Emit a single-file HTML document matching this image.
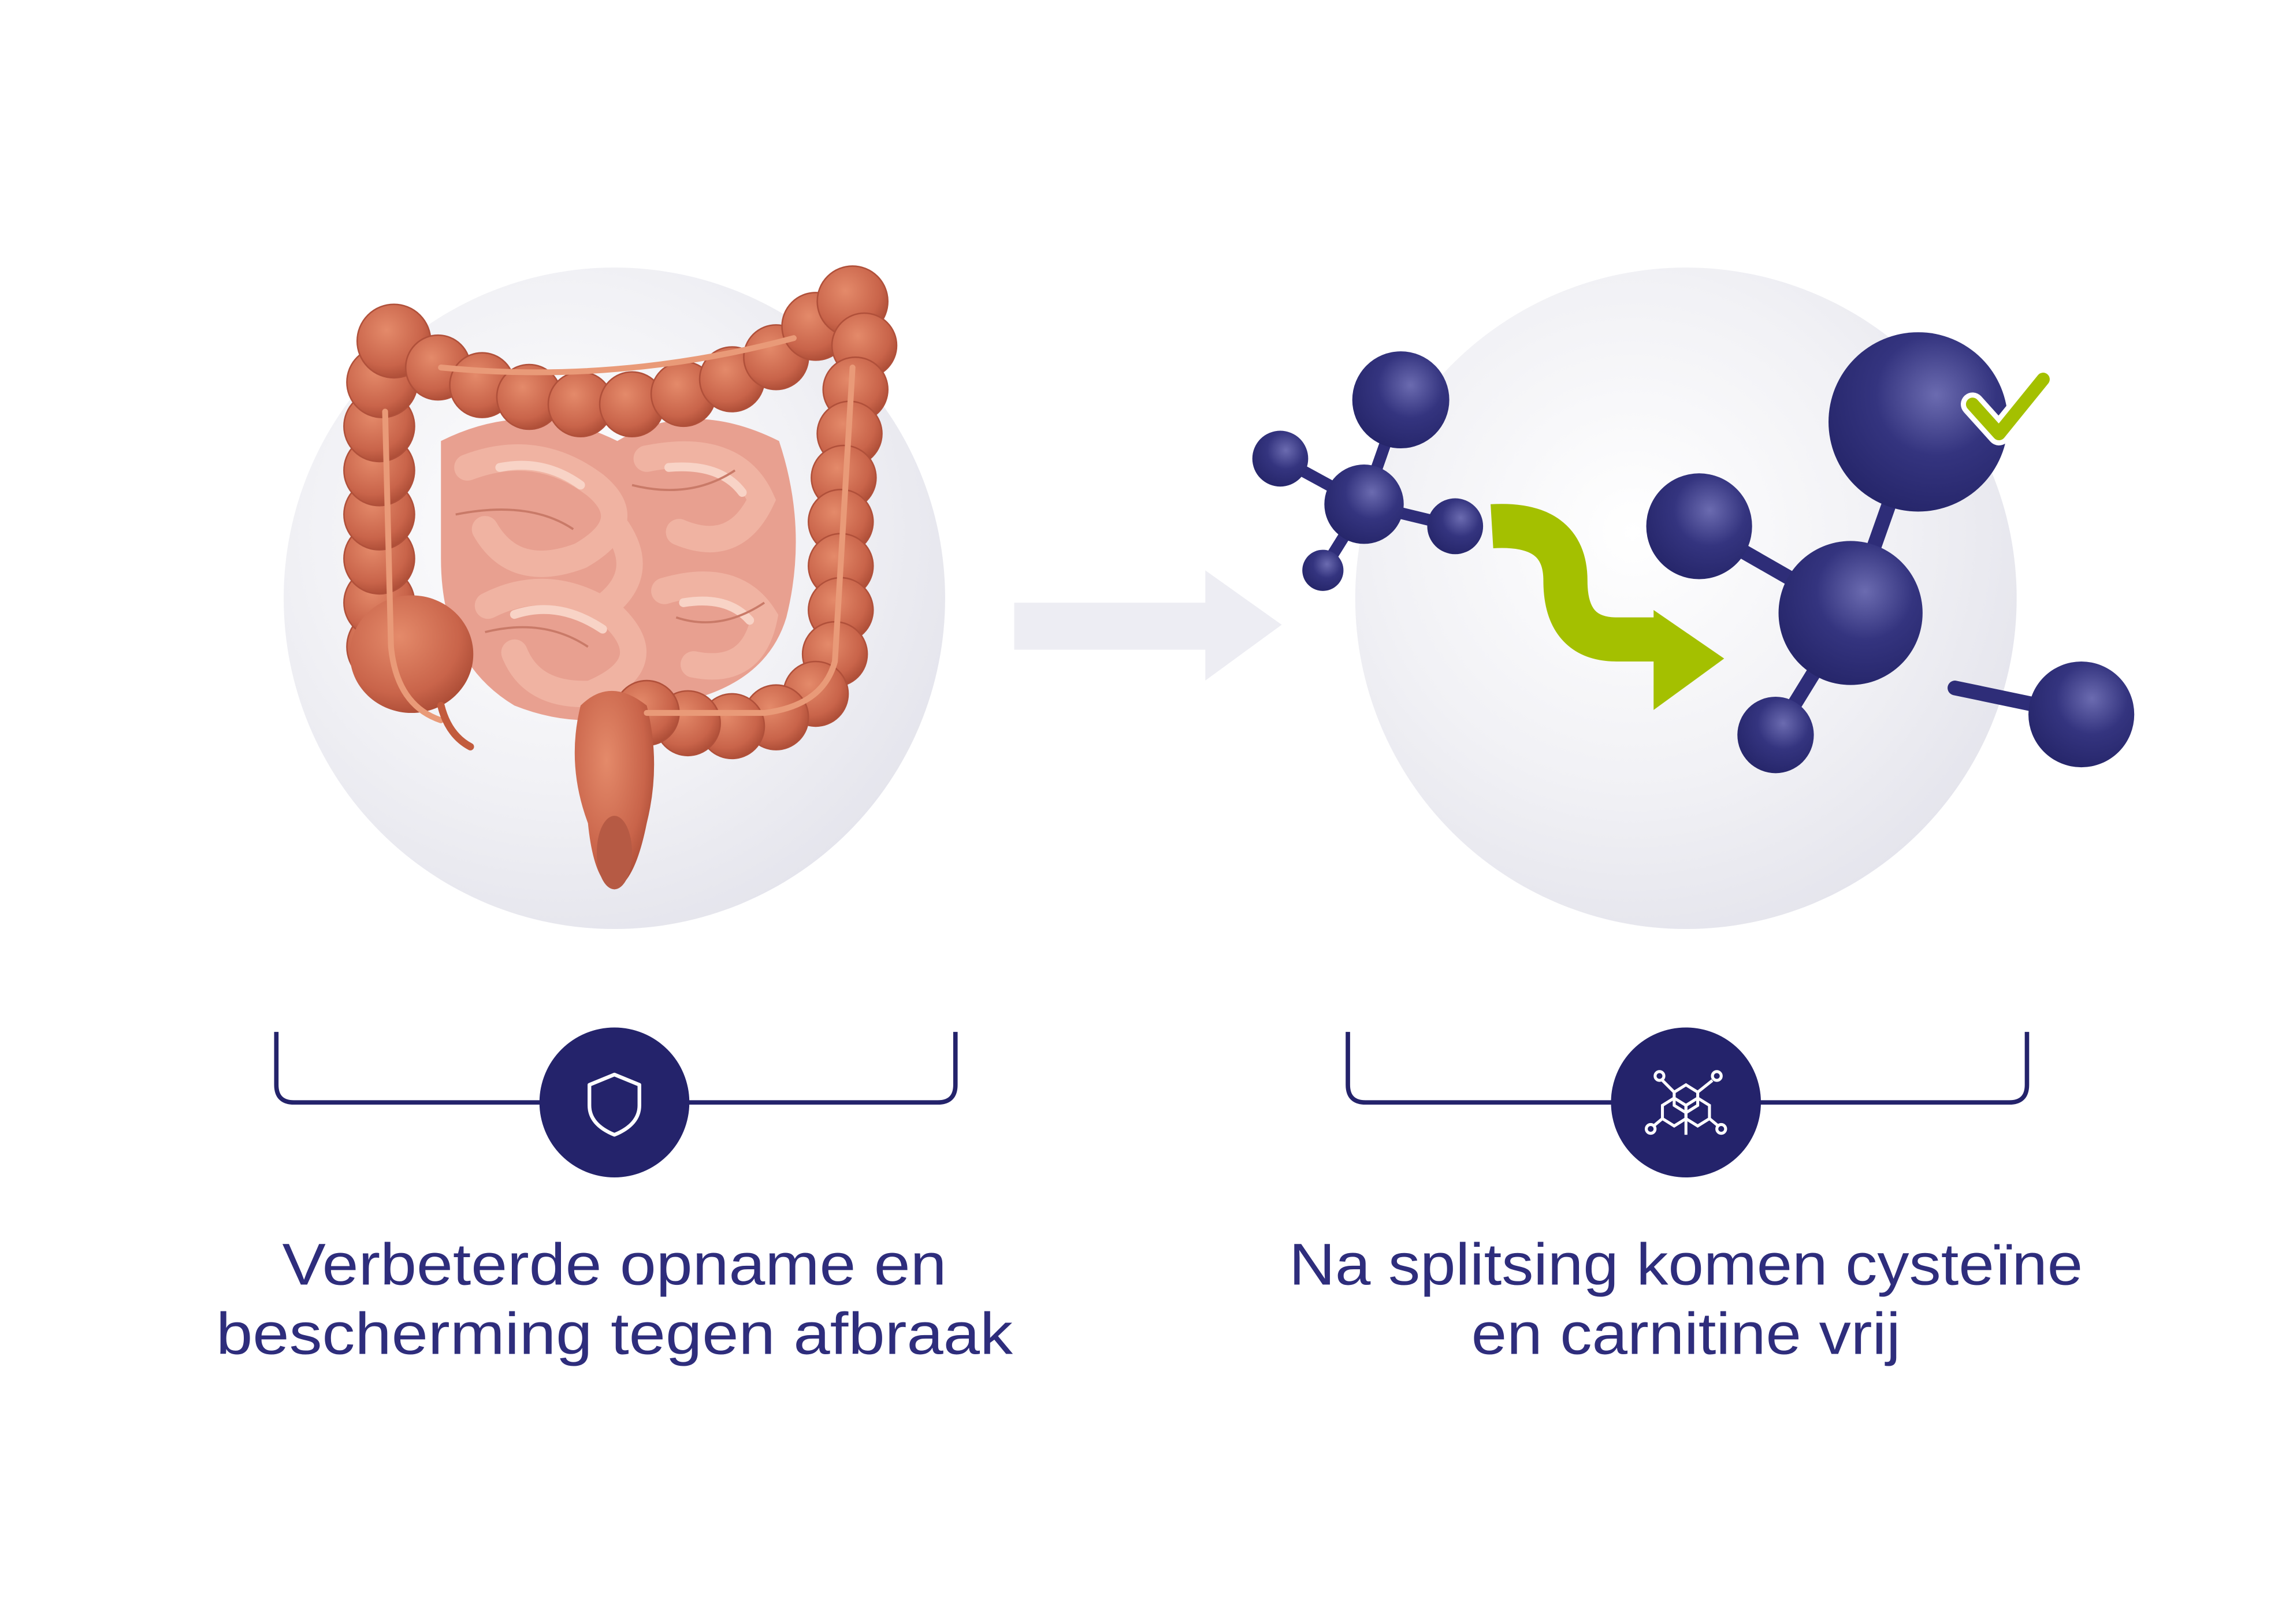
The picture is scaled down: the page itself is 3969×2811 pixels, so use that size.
<!DOCTYPE html>
<html><head><meta charset="utf-8">
<style>
html,body{margin:0;padding:0;background:#fff;}
svg{display:block;}
</style></head>
<body>
<svg width="3969" height="2811" viewBox="0 0 1560 1104.8" xmlns="http://www.w3.org/2000/svg">
<defs>
<radialGradient id="cg" cx="0.42" cy="0.4" r="0.65">
<stop offset="0" stop-color="#ffffff"/>
<stop offset="0.6" stop-color="#f1f1f5"/>
<stop offset="1" stop-color="#e4e4ec"/>
</radialGradient>
<radialGradient id="ball" cx="0.6" cy="0.35" r="0.75">
<stop offset="0" stop-color="#6b6bb0"/>
<stop offset="0.45" stop-color="#34347f"/>
<stop offset="1" stop-color="#232366"/>
</radialGradient>
<radialGradient id="pink" cx="0.5" cy="0.5" r="0.6">
<stop offset="0" stop-color="#f6c9bc"/>
<stop offset="1" stop-color="#e39b88"/>
</radialGradient>
<radialGradient id="hb" cx="0.4" cy="0.35" r="0.7">
<stop offset="0" stop-color="#e48a6a"/>
<stop offset="0.7" stop-color="#c9644a"/>
<stop offset="1" stop-color="#a94a34"/>
</radialGradient>
</defs>

<circle cx="418" cy="407" r="225" fill="url(#cg)"/>
<circle cx="1147" cy="407" r="225" fill="url(#cg)"/>

<rect x="690" y="410" width="131" height="32" fill="#ededf3"/>
<polygon points="820,388 872,425 820,463" fill="#ededf3"/>

<!-- small intestine -->
<path d="M300 300 Q360 270 420 300 Q470 270 530 300 Q550 360 535 420 Q520 470 450 480 Q400 500 350 480 Q300 450 300 380 Z" fill="#e8a090"/>
<g fill="none" stroke="#f0b3a2" stroke-width="18" stroke-linecap="round">
<path d="M318 318 Q365 300 405 330 Q435 355 395 378 Q350 395 330 360"/>
<path d="M440 312 Q500 300 518 340 Q500 378 462 362"/>
<path d="M332 412 Q375 390 418 420 Q450 452 402 472 Q362 474 350 444"/>
<path d="M452 402 Q500 388 520 420 Q512 460 472 452"/>
<path d="M420 360 Q440 390 412 412"/>
</g>
<g fill="none" stroke="#f8d3c6" stroke-width="6" stroke-linecap="round">
<path d="M340 318 Q370 312 395 330 M455 318 Q490 315 505 335 M350 418 Q380 408 410 428 M465 410 Q495 405 510 422"/>
</g>
<g fill="none" stroke="#c97a68" stroke-width="1.5">
<path d="M310 350 Q360 340 390 360 M430 330 Q470 340 500 320 M330 430 Q370 420 400 440 M460 420 Q490 430 520 410"/>
</g>

<!-- colon haustra -->
<g fill="url(#hb)" stroke="#b0503a" stroke-width="1">
<circle cx="262" cy="440" r="26"/><circle cx="258" cy="410" r="24"/><circle cx="258" cy="380" r="24"/><circle cx="258" cy="350" r="24"/><circle cx="258" cy="320" r="24"/><circle cx="258" cy="290" r="24"/><circle cx="260" cy="260" r="24"/><circle cx="268" cy="232" r="25"/>
<circle cx="298" cy="250" r="22"/><circle cx="328" cy="262" r="22"/><circle cx="360" cy="270" r="22"/><circle cx="395" cy="275" r="22"/><circle cx="430" cy="275" r="22"/><circle cx="465" cy="268" r="22"/><circle cx="498" cy="258" r="22"/><circle cx="528" cy="243" r="22"/><circle cx="555" cy="222" r="23"/><circle cx="580" cy="205" r="24"/>
<circle cx="588" cy="235" r="22"/><circle cx="582" cy="265" r="22"/><circle cx="578" cy="295" r="22"/><circle cx="574" cy="325" r="22"/><circle cx="572" cy="355" r="22"/><circle cx="572" cy="385" r="22"/><circle cx="572" cy="415" r="22"/><circle cx="568" cy="445" r="22"/><circle cx="555" cy="472" r="22"/>
<circle cx="528" cy="488" r="22"/><circle cx="498" cy="494" r="22"/><circle cx="468" cy="492" r="22"/><circle cx="440" cy="485" r="22"/>
</g>
<ellipse cx="280" cy="445" rx="42" ry="40" fill="url(#hb)"/>
<path d="M395 480 Q415 460 440 480 Q450 520 440 560 Q432 600 418 605 Q404 600 400 560 Q385 520 395 480 Z" fill="url(#hb)"/>
<ellipse cx="418" cy="580" rx="12" ry="25" fill="#b65a44"/>
<path d="M262 280 L266 440 Q270 480 300 490 M300 250 Q420 262 540 230 M580 250 L568 450 Q560 480 520 485 L440 485"
 fill="none" stroke="#e99a78" stroke-width="4" stroke-linecap="round"/>
<path d="M300 480 Q305 500 320 508" fill="none" stroke="#c25b3d" stroke-width="5" stroke-linecap="round"/>

<!-- left molecule -->
<g stroke="#2e2d78" stroke-width="8" stroke-linecap="round">
<line x1="928" y1="343" x2="953" y2="272"/>
<line x1="928" y1="343" x2="871" y2="312"/>
<line x1="928" y1="343" x2="990" y2="358"/>
<line x1="928" y1="343" x2="900" y2="388"/>
</g>
<circle cx="953" cy="272" r="33" fill="url(#ball)"/>
<circle cx="928" cy="343" r="27" fill="url(#ball)"/>
<circle cx="871" cy="312" r="19" fill="url(#ball)"/>
<circle cx="990" cy="358" r="19" fill="url(#ball)"/>
<circle cx="900" cy="388" r="14" fill="url(#ball)"/>

<path d="M1015 358 Q1065 355 1065 395 Q1065 435 1100 435 L1130 435" fill="none" stroke="#a4c000" stroke-width="30"/>
<polygon points="1125,415 1173,448 1125,483" fill="#a4c000"/>

<g stroke="#2e2d78" stroke-width="10" stroke-linecap="round">
<line x1="1259" y1="417" x2="1305" y2="287"/>
<line x1="1259" y1="417" x2="1156" y2="358"/>
<line x1="1259" y1="417" x2="1208" y2="500"/>
<line x1="1330" y1="468" x2="1416" y2="486"/>
</g>
<circle cx="1305" cy="287" r="61" fill="url(#ball)"/>
<circle cx="1259" cy="417" r="49" fill="url(#ball)"/>
<circle cx="1156" cy="358" r="36" fill="url(#ball)"/>
<circle cx="1208" cy="500" r="26" fill="url(#ball)"/>
<circle cx="1416" cy="486" r="36" fill="url(#ball)"/>
<path d="M1342 275 L1360 295 L1390 258" fill="none" stroke="#fff" stroke-width="16" stroke-linecap="round" stroke-linejoin="round"/>
<path d="M1342 275 L1360 295 L1390 258" fill="none" stroke="#a4c000" stroke-width="9" stroke-linecap="round" stroke-linejoin="round"/>

<g fill="none" stroke="#24236b" stroke-width="3">
<path d="M188 702 L188 738 Q188 750 200 750 L638 750 Q650 750 650 738 L650 702"/>
<path d="M917 702 L917 738 Q917 750 929 750 L1367 750 Q1379 750 1379 738 L1379 702"/>
</g>
<circle cx="418" cy="750" r="51" fill="#24236b"/>
<circle cx="1147" cy="750" r="51" fill="#24236b"/>
<path d="M418 731 L435 738 L435 752 Q435 765 418 772 Q401 765 401 752 L401 738 Z" fill="none" stroke="#fff" stroke-width="2.5" stroke-linejoin="round"/>
<g fill="none" stroke="#fff" stroke-width="2">
<polygon points="1147,738 1155,743 1155,752 1147,757 1139,752 1139,743"/>
<polygon points="1139,747 1147,752 1147,761 1139,766 1131,761 1131,752"/>
<polygon points="1155,747 1163,752 1163,761 1155,766 1147,761 1147,752"/>
<line x1="1139" y1="743" x2="1131" y2="735"/><circle cx="1129" cy="732" r="3"/>
<line x1="1155" y1="743" x2="1165" y2="735"/><circle cx="1168" cy="732" r="3"/>
<line x1="1131" y1="761" x2="1125" y2="766"/><circle cx="1123" cy="768" r="3"/>
<line x1="1163" y1="761" x2="1169" y2="766"/><circle cx="1171" cy="768" r="3"/>
<line x1="1147" y1="761" x2="1147" y2="772"/>
</g>

<g font-family="'Liberation Sans', sans-serif" font-size="40" fill="#2e2d7c" text-anchor="middle">
<text x="418" y="874" textLength="452" lengthAdjust="spacingAndGlyphs">Verbeterde opname en</text>
<text x="418" y="921" textLength="542" lengthAdjust="spacingAndGlyphs">bescherming tegen afbraak</text>
<text x="1147" y="874" textLength="540" lengthAdjust="spacingAndGlyphs">Na splitsing komen cysteïne</text>
<text x="1147" y="921" textLength="292" lengthAdjust="spacingAndGlyphs">en carnitine vrij</text>
</g>
</svg>
</body></html>
